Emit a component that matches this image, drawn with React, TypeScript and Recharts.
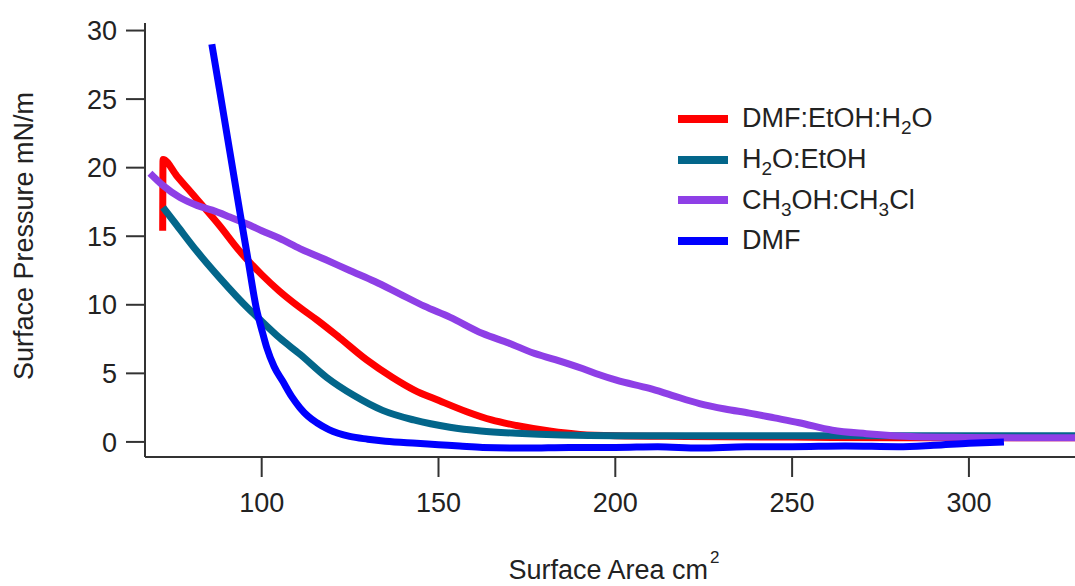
import { LineChart, Line, XAxis, YAxis, Legend } from "recharts";

const FONT = '"Liberation Sans", Arial, sans-serif';
const AXIS = "#333333";
const TEXT = "#222222";

const xTicks = [100, 150, 200, 250, 300];
const yTicks = [0, 5, 10, 15, 20, 25, 30];
const xDomain = [67, 330];
const yDomain = [-1.1, 30.55];

// DMF:EtOH:H2O
const mixArea = [72.0, 72.1, 76, 81.7, 88, 93.8, 100, 105, 110.8, 115.6, 122, 129.6, 137, 143, 150.3, 158, 165, 172, 181.4, 190, 200, 220, 250, 280, 310, 330];
const mixPressure = [15.4, 20.6, 19.4, 17.7, 15.8, 13.9, 12.2, 11.0, 9.8, 8.9, 7.6, 6.0, 4.7, 3.8, 3.0, 2.2, 1.6, 1.2, 0.8, 0.55, 0.45, 0.4, 0.35, 0.3, 0.3, 0.3];

// H2O:EtOH
const waterArea = [72.1, 76, 81.7, 88, 96.7, 100, 105, 110.8, 118.4, 126, 134.2, 143, 153.2, 162, 172.1, 185, 200, 230, 260, 290, 330];
const waterPressure = [17.1, 15.8, 13.9, 12.0, 9.6, 8.8, 7.6, 6.4, 4.7, 3.4, 2.3, 1.6, 1.07, 0.8, 0.63, 0.5, 0.45, 0.45, 0.45, 0.45, 0.45];

// CH3OH:CH3Cl
const methArea = [68.4, 72.1, 77, 81.7, 86, 91, 96.7, 100, 105, 110.8, 118, 124.9, 132, 139, 146, 153.2, 162.5, 170, 176.6, 183, 190.7, 195.5, 200.3, 209.7, 216, 223.8, 231, 237.9, 245, 252, 261.4, 271, 285, 299, 315, 330];
const methPressure = [19.6, 18.7, 17.8, 17.25, 16.9, 16.4, 15.8, 15.4, 14.85, 14.1, 13.3, 12.5, 11.7, 10.8, 9.9, 9.1, 7.9, 7.2, 6.5, 6.0, 5.35, 4.9, 4.5, 3.9, 3.4, 2.8, 2.4, 2.1, 1.75, 1.4, 0.85, 0.6, 0.38, 0.33, 0.3, 0.3];

// DMF
const dmfArea = [85.9, 88, 90, 92, 94, 96, 98.6, 100, 101.4, 103.5, 106, 108.5, 110.8, 113, 115.6, 119, 124.9, 130, 135, 143.8, 150, 156, 162.5, 175, 187, 200, 212, 223.8, 237, 250, 265, 280, 290, 300, 309.9];
const dmfPressure = [29.0, 25.8, 22.7, 19.6, 16.5, 13.5, 9.6, 8.2, 6.9, 5.5, 4.4, 3.3, 2.5, 1.9, 1.4, 0.9, 0.4, 0.2, 0.05, -0.1, -0.2, -0.3, -0.4, -0.45, -0.4, -0.4, -0.35, -0.45, -0.35, -0.35, -0.3, -0.35, -0.25, -0.1, 0.0];

const toPoints = (xs: number[], ys: number[]) => xs.map((x, i) => ({ x, y: ys[i] }));

const series = [
  { key: "mix", label: "DMF:EtOH:H_2O", color: "#ff0000", data: toPoints(mixArea, mixPressure) },
  { key: "water", label: "H_2O:EtOH", color: "#03668a", data: toPoints(waterArea, waterPressure) },
  { key: "meth", label: "CH_3OH:CH_3Cl", color: "#8e3fe6", data: toPoints(methArea, methPressure) },
  { key: "dmf", label: "DMF", color: "#0000ff", data: toPoints(dmfArea, dmfPressure) },
];

// "H_2O" -> H<sub>2</sub>O
const renderFormula = (s: string) =>
  s.split(/_(\d)/).map((part, i) =>
    i % 2 === 1 ? (
      <sub key={i} style={{ fontSize: 19, verticalAlign: -7, lineHeight: 0 }}>
        {part}
      </sub>
    ) : (
      <span key={i}>{part}</span>
    )
  );

const renderLegend = () => (
  <div style={{ fontFamily: FONT, fontSize: 27, color: TEXT }}>
    {series.map((s) => (
      <div key={s.key} style={{ display: "flex", alignItems: "center", height: 40.7 }}>
        <span style={{ width: 50, height: 8, background: s.color, marginRight: 14 }} />
        <span style={{ whiteSpace: "nowrap", lineHeight: 1 }}>{renderFormula(s.label)}</span>
      </div>
    ))}
  </div>
);

const XTitle = () => (
  <text x={614} y={579} textAnchor="middle" fontFamily={FONT} fontSize={27} fill={TEXT}>
    Surface Area cm
    <tspan dx={2} dy={-16} fontSize={17}>2</tspan>
  </text>
);

const YTitle = () => (
  <text
    x={24}
    y={236}
    transform="rotate(-90 24 236)"
    textAnchor="middle"
    dominantBaseline="central"
    fontFamily={FONT}
    fontSize={27}
    fill={TEXT}
  >
    Surface Pressure mN/m
  </text>
);

export default function App() {
  return (
    <div style={{ position: "absolute", left: 0, top: 0, width: 1075, height: 586, background: "#fff" }}>
      <LineChart width={1075} height={586} margin={{ top: 23, right: 0, bottom: 0, left: 0 }}>
        <XAxis
          dataKey="x"
          type="number"
          domain={xDomain}
          ticks={xTicks}
          allowDataOverflow
          height={129}
          stroke={AXIS}
          strokeWidth={2}
          tickSize={20}
          tickMargin={16}
          tick={{ fill: TEXT, fontSize: 27, fontFamily: FONT }}
          label={{ content: () => <XTitle /> }}
        />
        <XAxis
          xAxisId="top"
          orientation="top"
          type="number"
          domain={xDomain}
          height={0}
          tick={false}
          tickLine={false}
          stroke={AXIS}
          strokeWidth={2}
        />
        <YAxis
          type="number"
          domain={yDomain}
          ticks={yTicks}
          allowDataOverflow
          width={145}
          stroke={AXIS}
          strokeWidth={2}
          tickSize={19}
          tickMargin={9}
          tick={{ fill: TEXT, fontSize: 27, fontFamily: FONT }}
          label={{ content: () => <YTitle /> }}
        />
        <Legend
          layout="vertical"
          align="center"
          verticalAlign="middle"
          content={renderLegend}
          wrapperStyle={{ left: 678, top: 98.5, width: 320 }}
        />
        {series.map((s) => (
          <Line
            key={s.key}
            data={s.data}
            dataKey="y"
            name={s.label}
            type="monotone"
            stroke={s.color}
            strokeWidth={7}
            dot={false}
            activeDot={false}
            isAnimationActive={false}
          />
        ))}
      </LineChart>
    </div>
  );
}
